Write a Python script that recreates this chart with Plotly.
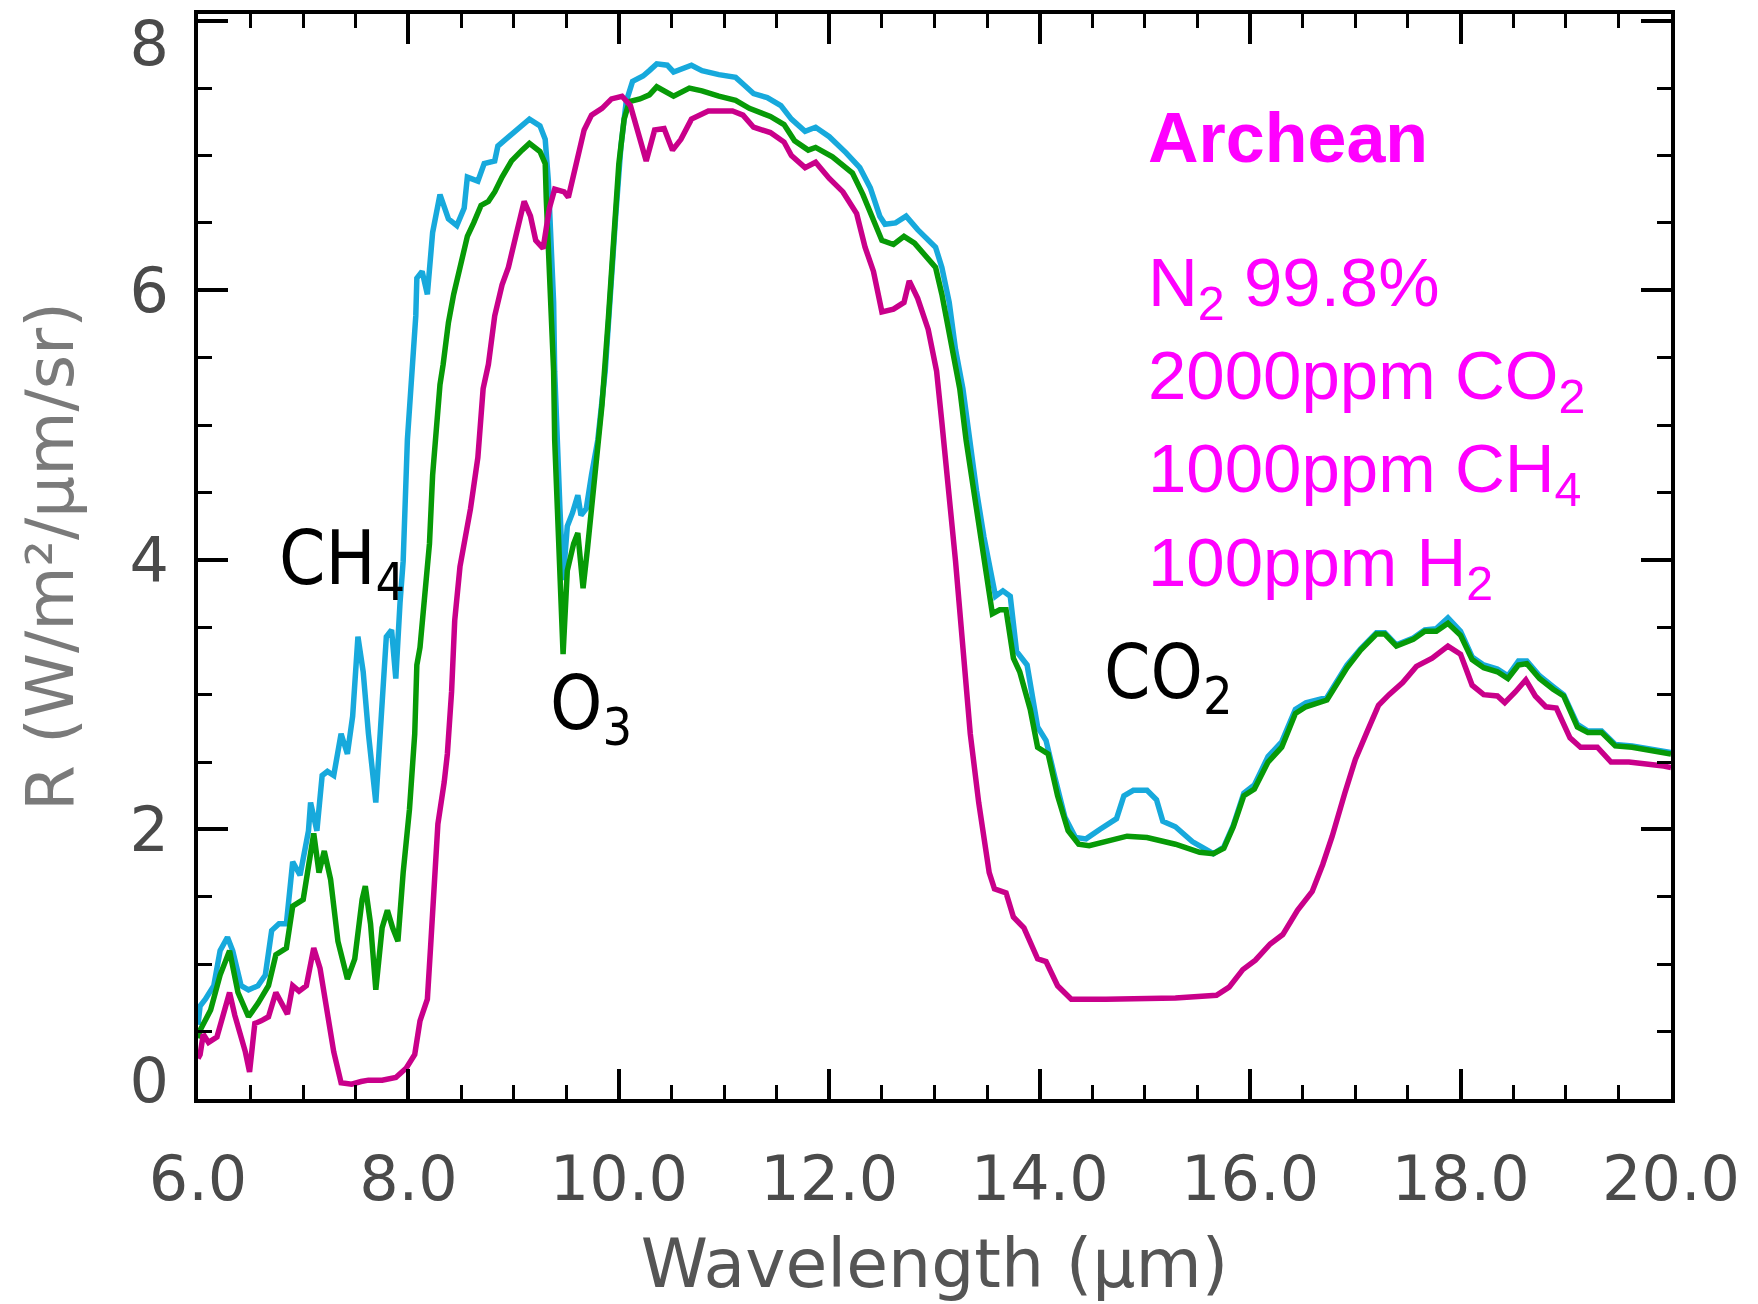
import plotly.graph_objects as go

# ---------------- data ----------------
WL_CYAN = [6.00, 6.02, 6.07, 6.15, 6.21, 6.28, 6.33, 6.41, 6.48, 6.57, 6.64, 6.70, 6.77, 6.84, 6.90, 6.97,
           7.05, 7.07, 7.13, 7.18, 7.23, 7.29, 7.36, 7.42, 7.47, 7.52, 7.57, 7.62, 7.69, 7.74, 7.79, 7.84,
           7.88, 7.92, 7.95, 7.99, 8.04, 8.07, 8.08, 8.13, 8.18, 8.23, 8.30, 8.38, 8.46, 8.53, 8.56, 8.66,
           8.72, 8.82, 8.85, 8.95, 9.08, 9.15, 9.25, 9.30, 9.33, 9.35, 9.38, 9.39, 9.41, 9.44, 9.47, 9.51,
           9.56, 9.61, 9.64, 9.69, 9.74, 9.80, 9.87, 9.92, 9.97, 10.02, 10.07, 10.13, 10.23, 10.29, 10.36,
           10.46, 10.52, 10.69, 10.79, 10.95, 11.11, 11.18, 11.28, 11.41, 11.54, 11.64, 11.77, 11.87, 12.00,
           12.16, 12.29, 12.39, 12.48, 12.53, 12.63, 12.73, 12.84, 13.01, 13.07, 13.14, 13.20, 13.27, 13.33,
           13.40, 13.47, 13.52, 13.58, 13.65, 13.72, 13.78, 13.88, 13.98, 14.06, 14.14, 14.24, 14.34, 14.44,
           14.57, 14.73, 14.80, 14.89, 15.02, 15.11, 15.17, 15.29, 15.45, 15.61, 15.65, 15.75, 15.84, 15.94,
           16.04, 16.17, 16.30, 16.43, 16.53, 16.73, 16.83, 16.92, 17.05, 17.20, 17.28, 17.39, 17.55, 17.66,
           17.77, 17.88, 18.00, 18.11, 18.22, 18.35, 18.45, 18.55, 18.63, 18.75, 18.88, 18.98, 19.11, 19.21,
           19.34, 19.47, 19.63, 19.93, 20.00]
R_CYAN = [0.55, 0.69, 0.74, 0.84, 1.10, 1.20, 1.10, 0.84, 0.81, 0.84, 0.92, 1.25, 1.30, 1.30, 1.76, 1.66,
          1.99, 2.20, 1.99, 2.40, 2.43, 2.40, 2.71, 2.56, 2.84, 3.43, 3.17, 2.71, 2.20, 2.84, 3.43, 3.48,
          3.12, 3.68, 3.99, 4.89, 5.40, 5.81, 6.09, 6.14, 5.97, 6.43, 6.71, 6.53, 6.48, 6.61, 6.84, 6.81,
          6.94, 6.96, 7.07, 7.14, 7.22, 7.27, 7.22, 7.12, 6.81, 6.43, 5.91, 5.40, 4.89, 4.38, 3.85, 4.25,
          4.35, 4.48, 4.33, 4.38, 4.63, 4.89, 5.40, 5.91, 6.55, 7.07, 7.40, 7.55, 7.59, 7.63, 7.68,
          7.67, 7.62, 7.67, 7.63, 7.60, 7.58, 7.53, 7.46, 7.43, 7.37, 7.27, 7.18, 7.21, 7.14,
          7.02, 6.91, 6.76, 6.55, 6.49, 6.50, 6.55, 6.45, 6.32, 6.17, 5.91, 5.56, 5.27, 4.89,
          4.51, 4.17, 3.99, 3.73, 3.77, 3.73, 3.32, 3.22, 2.76, 2.66, 2.40, 2.09, 1.94, 1.93,
          2.00, 2.08, 2.25, 2.29, 2.29, 2.22, 2.06, 2.02, 1.91, 1.84, 1.82, 1.87, 2.03, 2.27,
          2.33, 2.54, 2.65, 2.89, 2.94, 2.98, 3.11, 3.22, 3.34, 3.46, 3.46, 3.37, 3.42, 3.48,
          3.49, 3.57, 3.47, 3.28, 3.22, 3.19, 3.14, 3.25, 3.25, 3.14, 3.06, 3.00, 2.78, 2.73,
          2.73, 2.63, 2.62, 2.58, 2.57]

WL_GREEN = [6.00, 6.02, 6.12, 6.21, 6.30, 6.38, 6.48, 6.57, 6.67, 6.74, 6.84, 6.90, 7.00, 7.07, 7.10, 7.15,
            7.20, 7.26, 7.33, 7.42, 7.49, 7.56, 7.59, 7.64, 7.69, 7.75, 7.80, 7.85, 7.90, 7.95, 8.01, 8.06,
            8.08, 8.11, 8.14, 8.20, 8.23, 8.26, 8.30, 8.33, 8.38, 8.43, 8.49, 8.56, 8.62, 8.69, 8.76, 8.82,
            8.89, 8.98, 9.08, 9.15, 9.25, 9.30, 9.31, 9.35, 9.38, 9.39, 9.43, 9.45, 9.47, 9.51, 9.57, 9.61,
            9.66, 9.70, 9.77, 9.84, 9.90, 9.95, 10.00, 10.05, 10.10, 10.20, 10.29, 10.36, 10.44, 10.52,
            10.67, 10.79, 10.95, 11.11, 11.24, 11.44, 11.57, 11.67, 11.80, 11.87, 12.03, 12.22, 12.32,
            12.42, 12.50, 12.61, 12.71, 12.81, 13.01, 13.07, 13.14, 13.24, 13.30, 13.37, 13.48, 13.55,
            13.62, 13.68, 13.75, 13.81, 13.91, 13.98, 14.08, 14.17, 14.27, 14.37, 14.47, 14.63, 14.83,
            15.02, 15.29, 15.52, 15.65, 15.75, 15.84, 15.94, 16.04, 16.17, 16.30, 16.43, 16.53, 16.73,
            16.83, 16.92, 17.05, 17.20, 17.28, 17.39, 17.55, 17.66, 17.77, 17.88, 18.00, 18.11, 18.22,
            18.35, 18.45, 18.55, 18.63, 18.75, 18.88, 18.98, 19.11, 19.21, 19.34, 19.47, 19.63, 19.93, 20.00]
R_GREEN = [0.45, 0.51, 0.66, 0.92, 1.10, 0.79, 0.61, 0.71, 0.84, 1.07, 1.12, 1.43, 1.48, 1.81, 1.97, 1.68,
           1.84, 1.63, 1.17, 0.89, 1.04, 1.48, 1.58, 1.30, 0.81, 1.27, 1.40, 1.27, 1.17, 1.68, 2.15, 2.71,
           3.22, 3.35, 3.60, 4.12, 4.63, 4.97, 5.30, 5.45, 5.76, 5.97, 6.17, 6.40, 6.50, 6.63, 6.66, 6.73,
           6.84, 6.96, 7.04, 7.09, 7.03, 6.94, 6.68, 6.04, 5.40, 4.89, 4.12, 3.60, 3.30, 3.92, 4.12, 4.20,
           3.79, 4.07, 4.63, 5.15, 5.79, 6.43, 6.94, 7.27, 7.40, 7.42, 7.45, 7.51, 7.48, 7.44,
           7.50, 7.48, 7.44, 7.41, 7.35, 7.29, 7.23, 7.11, 7.04, 7.06, 6.99, 6.87, 6.71,
           6.53, 6.37, 6.34, 6.40, 6.35, 6.17, 5.97, 5.66, 5.27, 4.89, 4.51, 3.92, 3.60,
           3.63, 3.63, 3.27, 3.17, 2.89, 2.61, 2.56, 2.25, 1.99, 1.89, 1.88, 1.91, 1.95,
           1.94, 1.89, 1.83, 1.82, 1.86, 2.02, 2.25, 2.30, 2.50, 2.61, 2.86, 2.91, 2.96,
           3.09, 3.20, 3.33, 3.45, 3.45, 3.36, 3.41, 3.47, 3.47, 3.53, 3.44, 3.26, 3.20,
           3.17, 3.12, 3.22, 3.23, 3.12, 3.04, 2.99, 2.76, 2.72, 2.72, 2.62, 2.61, 2.57, 2.56]

WL_MAGENTA = [6.00, 6.02, 6.05, 6.10, 6.18, 6.24, 6.30, 6.35, 6.41, 6.45, 6.49, 6.54, 6.60, 6.67, 6.74, 6.80,
              6.85, 6.90, 6.96, 7.03, 7.07, 7.10, 7.16, 7.23, 7.29, 7.36, 7.46, 7.55, 7.62, 7.75, 7.88, 7.98,
              8.06, 8.11, 8.18, 8.21, 8.24, 8.28, 8.34, 8.37, 8.41, 8.44, 8.49, 8.59, 8.66, 8.71, 8.76, 8.82,
              8.89, 8.95, 9.02, 9.10, 9.16, 9.21, 9.28, 9.34, 9.39, 9.48, 9.52, 9.59, 9.67, 9.74, 9.84, 9.93,
              10.03, 10.11, 10.20, 10.26, 10.34, 10.43, 10.51, 10.59, 10.69, 10.85, 11.08, 11.18, 11.28,
              11.44, 11.57, 11.64, 11.77, 11.87, 12.00, 12.13, 12.26, 12.34, 12.42, 12.50, 12.61, 12.71,
              12.76, 12.84, 12.94, 13.02, 13.07, 13.14, 13.20, 13.27, 13.34, 13.42, 13.52, 13.57, 13.68,
              13.75, 13.85, 13.98, 14.06, 14.17, 14.30, 14.63, 15.29, 15.68, 15.80, 15.93, 16.05, 16.19,
              16.31, 16.45, 16.59, 16.69, 16.78, 16.90, 17.00, 17.12, 17.22, 17.32, 17.45, 17.58, 17.73,
              17.88, 18.00, 18.11, 18.22, 18.35, 18.42, 18.52, 18.62, 18.71, 18.81, 18.91, 19.04, 19.14,
              19.30, 19.43, 19.60, 19.93, 20.00]
R_MAGENTA = [0.30, 0.33, 0.48, 0.42, 0.46, 0.62, 0.79, 0.62, 0.46, 0.35, 0.20, 0.56, 0.58, 0.61, 0.79, 0.70,
             0.63, 0.84, 0.80, 0.84, 1.00, 1.12, 0.97, 0.66, 0.35, 0.12, 0.11, 0.13, 0.14, 0.14, 0.16, 0.23,
             0.33, 0.58, 0.74, 1.12, 1.53, 2.04, 2.35, 2.56, 3.02, 3.55, 3.95, 4.38, 4.76, 5.27, 5.45, 5.81,
             6.04, 6.17, 6.40, 6.66, 6.55, 6.37, 6.31, 6.61, 6.75, 6.73, 6.69, 6.94, 7.19, 7.30, 7.35, 7.42,
             7.44, 7.37, 7.12, 6.96, 7.19, 7.20, 7.04, 7.12, 7.27, 7.33, 7.33, 7.30, 7.21,
             7.17, 7.10, 7.00, 6.91, 6.95, 6.83, 6.73, 6.57, 6.32, 6.14, 5.84, 5.86, 5.91,
             6.07, 5.94, 5.71, 5.40, 5.02, 4.51, 3.99, 3.35, 2.71, 2.20, 1.68, 1.56, 1.53,
             1.35, 1.27, 1.04, 1.02, 0.84, 0.74, 0.74, 0.75, 0.77, 0.83, 0.96, 1.03, 1.15,
             1.22, 1.40, 1.54, 1.74, 1.95, 2.27, 2.52, 2.74, 2.92, 3.00, 3.09, 3.21, 3.27,
             3.36, 3.30, 3.07, 3.00, 2.99, 2.94, 3.02, 3.11, 2.99, 2.91, 2.90, 2.68, 2.61,
             2.61, 2.50, 2.50, 2.47, 2.46]

X_RANGE = [6.0, 20.0]
Y_RANGE = [0.0, 8.05]
X_TICKS = [6, 8, 10, 12, 14, 16, 18, 20]
Y_TICKS = [0, 2, 4, 6, 8]

BAND_LABELS = ["CH<sub>4</sub>", "O<sub>3</sub>", "CO<sub>2</sub>"]
BAND_POS = [(6.75, 4.03), (9.33, 2.96), (14.59, 3.19)]
INFO_LINES = ["<b>Archean</b>", "N<sub>2</sub> 99.8%", "2000ppm CO<sub>2</sub>",
              "1000ppm CH<sub>4</sub>", "100ppm H<sub>2</sub>"]
INFO_Y = [7.13, 6.07, 5.38, 4.69, 3.99]
INFO_X = 15.01

# ---------------- styling ----------------
C_CYAN = "#17a9dc"
C_GREEN = "#079a07"
C_MAG = "#c9008a"
TXT_MAG = "#ff00ff"
TICK_FONT = dict(family="DejaVu Sans", size=62, color="#4a4a4a")
LW = 5.5

fig = go.Figure()
for wl, r, c in [(WL_CYAN, R_CYAN, C_CYAN), (WL_GREEN, R_GREEN, C_GREEN), (WL_MAGENTA, R_MAGENTA, C_MAG)]:
    fig.add_trace(go.Scatter(x=wl, y=r, mode="lines", line=dict(color=c, width=LW), showlegend=False,
                             hoverinfo="skip"))

# invisible trace to activate label axis
fig.add_trace(go.Scatter(x=[None], y=[None], yaxis="y2", showlegend=False))

axis_common = dict(showline=True, linewidth=3.5, linecolor="black", mirror="ticks",
                   ticks="inside", ticklen=30, tickwidth=3.5, tickcolor="black",
                   showgrid=False, zeroline=False,
                   minor=dict(ticks="inside", ticklen=14, tickwidth=3, tickcolor="black", showgrid=False))

# y-label positions: IDL style pulls the end labels inside the frame
label_shift = {0: 0.14, 8: -0.17}
y_label_pos = [v + label_shift.get(v, 0) for v in Y_TICKS]

# page body has an 8px default margin: figure is 8px smaller so it fits the window
fig.update_layout(
    width=1750, height=1296,
    margin=dict(l=190, r=87, t=6, b=205, autoexpand=False),
    paper_bgcolor="white", plot_bgcolor="white",
    xaxis=dict(range=X_RANGE, tickvals=X_TICKS, tickformat=".1f", tickfont=TICK_FONT,
               ticklabelstandoff=23, ticklabeloverflow="allow",
               title=dict(text="Wavelength (μm)", font=dict(family="DejaVu Sans", size=68, color="#555555"),
                          standoff=26),
               **{**axis_common, "minor": {**axis_common["minor"], "dtick": 0.5, "tick0": 6}}),
    yaxis=dict(range=Y_RANGE, tickvals=Y_TICKS, showticklabels=False,
               **{**axis_common, "minor": {**axis_common["minor"], "dtick": 0.5, "tick0": 0}}),
    yaxis2=dict(range=Y_RANGE, overlaying="y", anchor="x", side="left", showline=False, ticks="",
                showgrid=False, zeroline=False, tickvals=y_label_pos, ticktext=[str(v) for v in Y_TICKS],
                tickfont=TICK_FONT, ticklabelstandoff=28, ticklabeloverflow="allow",
                title=dict(text="R (W/m²/μm/sr)", font=dict(family="DejaVu Sans", size=66, color="#7a7a7a"),
                           standoff=34)),
)

for txt, (bx, by) in zip(BAND_LABELS, BAND_POS):
    fig.add_annotation(x=bx, y=by, xref="x", yref="y", text=txt, showarrow=False, xanchor="left",
                       yanchor="middle", yshift=-8,
                       font=dict(family="Liberation Sans Narrow, DejaVu Sans Condensed, sans-serif",
                                 size=74, color="black"))

for i, (txt, iy) in enumerate(zip(INFO_LINES, INFO_Y)):
    fig.add_annotation(x=INFO_X, y=iy, xref="x", yref="y", text=txt, showarrow=False, xanchor="left",
                       yanchor="middle", yshift=(0 if i == 0 else -6),
                       font=dict(family="Liberation Sans, Arial, sans-serif", size=(70 if i == 0 else 69),
                                 color=TXT_MAG))

fig.write_html("out.html")
